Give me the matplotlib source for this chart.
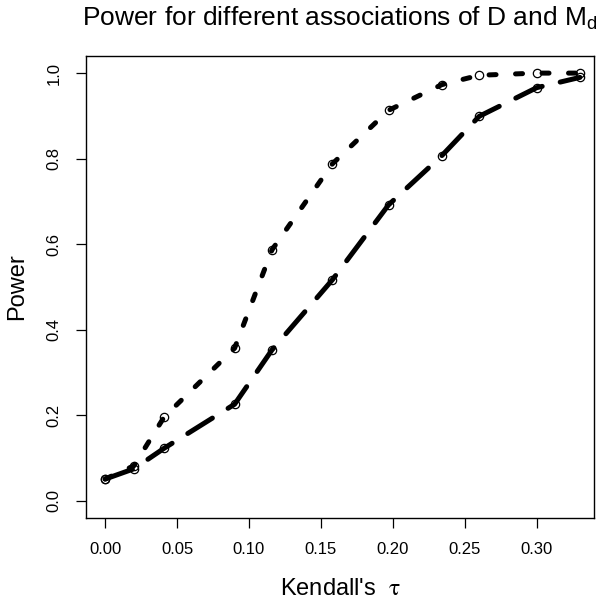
import matplotlib
matplotlib.use("Agg")
import matplotlib.pyplot as plt

plt.rcParams["font.family"] = ["Liberation Sans", "DejaVu Sans"]
plt.rcParams["mathtext.fontset"] = "stix"

# Kendall's tau values (shared by both curves)
tau = [0.0, 0.020, 0.041, 0.090, 0.116, 0.158, 0.197, 0.234, 0.260, 0.300, 0.330]

# power, dotted curve (stronger association)
power_dotted = [0.051, 0.082, 0.196, 0.357, 0.587, 0.788, 0.913, 0.973, 0.995, 1.000, 1.000]
# power, long-dashed curve
power_dashed = [0.051, 0.075, 0.123, 0.226, 0.353, 0.517, 0.692, 0.807, 0.899, 0.966, 0.990]

x_ticks = [0.00, 0.05, 0.10, 0.15, 0.20, 0.25, 0.30]
y_ticks = [0.0, 0.2, 0.4, 0.6, 0.8, 1.0]

fig = plt.figure(figsize=(6.0, 6.02), dpi=100)
ax = fig.add_axes([85.7 / 600, (602 - 518) / 602, (594.3 - 85.7) / 600, (518 - 56) / 602])

lw = 3.6
ax.plot(tau, power_dotted, color="black", lw=lw, dashes=(1.4, 3.9),
        dash_capstyle="round", solid_capstyle="round")
ax.plot(tau, power_dashed, color="black", lw=lw, dashes=(5.8, 3.7),
        dash_capstyle="round", solid_capstyle="round")
for y in (power_dotted, power_dashed):
    ax.plot(tau, y, linestyle="none", marker="o", markersize=6,
            markerfacecolor="none", markeredgecolor="black", markeredgewidth=0.9)

ax.set_xlim(-0.0135, 0.340)
ax.set_ylim(-0.04, 1.04)
ax.set_xticks(x_ticks)
ax.set_xticklabels([f"{v:.2f}" for v in x_ticks])
ax.set_yticks(y_ticks)
ax.set_yticklabels([f"{v:.1f}" for v in y_ticks], rotation=90, va="center")
ax.tick_params(axis="both", direction="out", length=7.5, width=0.9, labelsize=12, pad=10)
for s in ax.spines.values():
    s.set_linewidth(1.0)

ax.set_xlabel("Kendall's  $\\mathrm{\\tau}$", fontsize=17, labelpad=15)
ax.set_ylabel("Power", fontsize=17, labelpad=13)
ax.set_title("Power for different associations of D and $\\mathregular{M_d}$",
             fontsize=19, pad=22)

fig.savefig("out.png", dpi=100)
